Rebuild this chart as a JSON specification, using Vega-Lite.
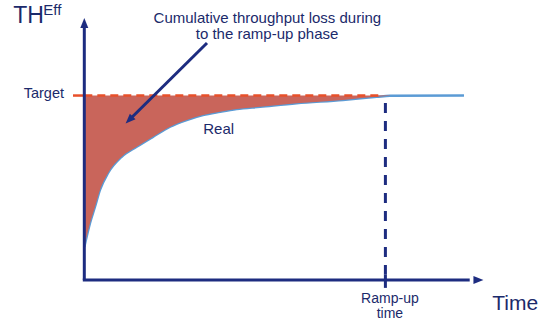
{
  "$schema": "https://vega.github.io/schema/vega-lite/v6.json",
  "width": 551,
  "height": 322,
  "padding": 0,
  "autosize": {"type": "none"},
  "background": "white",
  "config": {"view": {"stroke": null}, "text": {"font": "Liberation Sans", "color": "#1b2a6b"}},
  "datasets": {
    "curve": [
      {"time": 0, "th": 17.9},
      {"time": 1.9, "th": 30.9},
      {"time": 3.55, "th": 39.7},
      {"time": 5.2, "th": 48.8},
      {"time": 7.9, "th": 58.0},
      {"time": 12.4, "th": 66.8},
      {"time": 17.4, "th": 72.2},
      {"time": 22.8, "th": 77.6},
      {"time": 28.5, "th": 83.1},
      {"time": 34.0, "th": 86.7},
      {"time": 39.4, "th": 89.4},
      {"time": 45.1, "th": 91.2},
      {"time": 50.6, "th": 92.7},
      {"time": 58.4, "th": 93.9},
      {"time": 70.5, "th": 95.8},
      {"time": 85.9, "th": 97.6},
      {"time": 97.1, "th": 99.3},
      {"time": 101.5, "th": 99.9},
      {"time": 126.1, "th": 100}
    ],
    "segments": [
      {"id": "yaxis", "t": 0, "v": 0, "t2": 0, "v2": 137.7},
      {"id": "xaxis", "t": -0.5, "v": 0, "t2": 128, "v2": 0},
      {"id": "target_solid", "t": -3.75, "v": 100, "t2": 0, "v2": 100},
      {"id": "target_dash", "t": 0, "v": 100, "t2": 98, "v2": 100},
      {"id": "rampup", "t": 100, "v": 95.9, "t2": 100, "v2": 3},
      {"id": "tick", "t": 100, "v": 3, "t2": 100, "v2": -4.3},
      {"id": "pointer", "t": 40.75, "v": 128.5, "t2": 14.9, "v2": 86.7}
    ],
    "heads": [
      {"t": 0, "v": 139.3, "dir": 0},
      {"t": 130.9, "v": 0, "dir": 90},
      {"t": 14.9, "v": 86.7, "dir": 225}
    ],
    "labels": [
      {"group": "title", "label": "TH", "t": -23.6, "v": 139.1},
      {"group": "sup", "label": "Eff", "t": -13.6, "v": 143.6},
      {"group": "target", "label": "Target", "t": -6.74, "v": 98.8},
      {"group": "note", "label": "Cumulative throughput loss during", "t": 60.8, "v": 139.1},
      {"group": "note", "label": "to the ramp-up phase", "t": 60.7, "v": 130.4},
      {"group": "real", "label": "Real", "t": 39.5, "v": 79.0},
      {"group": "ramp", "label": "Ramp-up", "t": 101.5, "v": -12.4},
      {"group": "ramp", "label": "time", "t": 101.5, "v": -20.9},
      {"group": "time", "label": "Time", "t": 135.5, "v": -16.3}
    ]
  },
  "layer": [
    {
      "data": {"name": "curve"},
      "mark": {"type": "line", "color": "#5b9bd5", "strokeWidth": 2.5, "interpolate": "monotone"},
      "encoding": {
        "x": {"field": "time", "type": "quantitative", "scale": {"domain": [-28, 155], "nice": false, "zero": false}, "axis": null},
        "y": {"field": "th", "type": "quantitative", "scale": {"domain": [-22.8, 151.8], "nice": false, "zero": false}, "axis": null}
      }
    },
    {
      "data": {"name": "curve"},
      "transform": [{"filter": "datum.time <= 101.5"}],
      "mark": {"type": "area", "color": "#c9655b", "opacity": 1, "interpolate": "monotone"},
      "encoding": {
        "x": {"field": "time", "type": "quantitative", "scale": {"domain": [-28, 155], "nice": false, "zero": false}, "axis": null},
        "y": {"field": "th", "type": "quantitative", "scale": {"domain": [-22.8, 151.8], "nice": false, "zero": false}, "axis": null},
        "y2": {"datum": 100}
      }
    },
    {
      "data": {"name": "segments"},
      "transform": [{"filter": "datum.id === 'target_solid'"}],
      "mark": {"type": "rule", "color": "#e8502a", "strokeWidth": 2.5},
      "encoding": {
        "x": {"field": "t", "type": "quantitative", "scale": {"domain": [-28, 155], "nice": false, "zero": false}, "axis": null},
        "y": {"field": "v", "type": "quantitative", "scale": {"domain": [-22.8, 151.8], "nice": false, "zero": false}, "axis": null},
        "x2": {"field": "t2"},
        "y2": {"field": "v2"}
      }
    },
    {
      "data": {"name": "segments"},
      "transform": [{"filter": "datum.id === 'target_dash'"}],
      "mark": {"type": "rule", "color": "#e8502a", "strokeWidth": 2.5, "strokeDash": [8, 5]},
      "encoding": {
        "x": {"field": "t", "type": "quantitative", "scale": {"domain": [-28, 155], "nice": false, "zero": false}, "axis": null},
        "y": {"field": "v", "type": "quantitative", "scale": {"domain": [-22.8, 151.8], "nice": false, "zero": false}, "axis": null},
        "x2": {"field": "t2"},
        "y2": {"field": "v2"}
      }
    },
    {
      "data": {"name": "segments"},
      "transform": [{"filter": "datum.id === 'yaxis' || datum.id === 'xaxis' || datum.id === 'tick' || datum.id === 'pointer'"}],
      "mark": {"type": "rule", "color": "#1d2c80", "strokeWidth": 3},
      "encoding": {
        "x": {"field": "t", "type": "quantitative", "scale": {"domain": [-28, 155], "nice": false, "zero": false}, "axis": null},
        "y": {"field": "v", "type": "quantitative", "scale": {"domain": [-22.8, 151.8], "nice": false, "zero": false}, "axis": null},
        "x2": {"field": "t2"},
        "y2": {"field": "v2"}
      }
    },
    {
      "data": {"name": "segments"},
      "transform": [{"filter": "datum.id === 'rampup'"}],
      "mark": {"type": "rule", "color": "#1d2c80", "strokeWidth": 3, "strokeDash": [10, 8]},
      "encoding": {
        "x": {"field": "t", "type": "quantitative", "scale": {"domain": [-28, 155], "nice": false, "zero": false}, "axis": null},
        "y": {"field": "v", "type": "quantitative", "scale": {"domain": [-22.8, 151.8], "nice": false, "zero": false}, "axis": null},
        "x2": {"field": "t2"},
        "y2": {"field": "v2"}
      }
    },
    {
      "data": {"name": "heads"},
      "mark": {"type": "point", "shape": "M-0.8,1L0.8,1L0,-1Z", "filled": true, "color": "#1d2c80", "opacity": 1, "size": 100},
      "encoding": {
        "x": {"field": "t", "type": "quantitative", "scale": {"domain": [-28, 155], "nice": false, "zero": false}, "axis": null},
        "y": {"field": "v", "type": "quantitative", "scale": {"domain": [-22.8, 151.8], "nice": false, "zero": false}, "axis": null},
        "angle": {"field": "dir", "type": "quantitative", "scale": null}
      }
    },
    {
      "data": {"name": "labels"},
      "transform": [{"filter": "datum.group === 'title'"}],
      "mark": {"type": "text", "fontSize": 23, "align": "left", "baseline": "alphabetic"},
      "encoding": {
        "x": {"field": "t", "type": "quantitative", "scale": {"domain": [-28, 155], "nice": false, "zero": false}, "axis": null},
        "y": {"field": "v", "type": "quantitative", "scale": {"domain": [-22.8, 151.8], "nice": false, "zero": false}, "axis": null},
        "text": {"field": "label"}
      }
    },
    {
      "data": {"name": "labels"},
      "transform": [{"filter": "datum.group === 'sup'"}],
      "mark": {"type": "text", "fontSize": 15, "align": "left", "baseline": "alphabetic"},
      "encoding": {
        "x": {"field": "t", "type": "quantitative", "scale": {"domain": [-28, 155], "nice": false, "zero": false}, "axis": null},
        "y": {"field": "v", "type": "quantitative", "scale": {"domain": [-22.8, 151.8], "nice": false, "zero": false}, "axis": null},
        "text": {"field": "label"}
      }
    },
    {
      "data": {"name": "labels"},
      "transform": [{"filter": "datum.group === 'target'"}],
      "mark": {"type": "text", "fontSize": 14.5, "align": "right", "baseline": "alphabetic"},
      "encoding": {
        "x": {"field": "t", "type": "quantitative", "scale": {"domain": [-28, 155], "nice": false, "zero": false}, "axis": null},
        "y": {"field": "v", "type": "quantitative", "scale": {"domain": [-22.8, 151.8], "nice": false, "zero": false}, "axis": null},
        "text": {"field": "label"}
      }
    },
    {
      "data": {"name": "labels"},
      "transform": [{"filter": "datum.group === 'note'"}],
      "mark": {"type": "text", "fontSize": 15, "align": "center", "baseline": "alphabetic"},
      "encoding": {
        "x": {"field": "t", "type": "quantitative", "scale": {"domain": [-28, 155], "nice": false, "zero": false}, "axis": null},
        "y": {"field": "v", "type": "quantitative", "scale": {"domain": [-22.8, 151.8], "nice": false, "zero": false}, "axis": null},
        "text": {"field": "label"}
      }
    },
    {
      "data": {"name": "labels"},
      "transform": [{"filter": "datum.group === 'ramp'"}],
      "mark": {"type": "text", "fontSize": 14, "align": "center", "baseline": "alphabetic"},
      "encoding": {
        "x": {"field": "t", "type": "quantitative", "scale": {"domain": [-28, 155], "nice": false, "zero": false}, "axis": null},
        "y": {"field": "v", "type": "quantitative", "scale": {"domain": [-22.8, 151.8], "nice": false, "zero": false}, "axis": null},
        "text": {"field": "label"}
      }
    },
    {
      "data": {"name": "labels"},
      "transform": [{"filter": "datum.group === 'real'"}],
      "mark": {"type": "text", "fontSize": 15, "align": "left", "baseline": "alphabetic"},
      "encoding": {
        "x": {"field": "t", "type": "quantitative", "scale": {"domain": [-28, 155], "nice": false, "zero": false}, "axis": null},
        "y": {"field": "v", "type": "quantitative", "scale": {"domain": [-22.8, 151.8], "nice": false, "zero": false}, "axis": null},
        "text": {"field": "label"}
      }
    },
    {
      "data": {"name": "labels"},
      "transform": [{"filter": "datum.group === 'time'"}],
      "mark": {"type": "text", "fontSize": 21, "align": "left", "baseline": "alphabetic"},
      "encoding": {
        "x": {"field": "t", "type": "quantitative", "scale": {"domain": [-28, 155], "nice": false, "zero": false}, "axis": null},
        "y": {"field": "v", "type": "quantitative", "scale": {"domain": [-22.8, 151.8], "nice": false, "zero": false}, "axis": null},
        "text": {"field": "label"}
      }
    }
  ]
}
